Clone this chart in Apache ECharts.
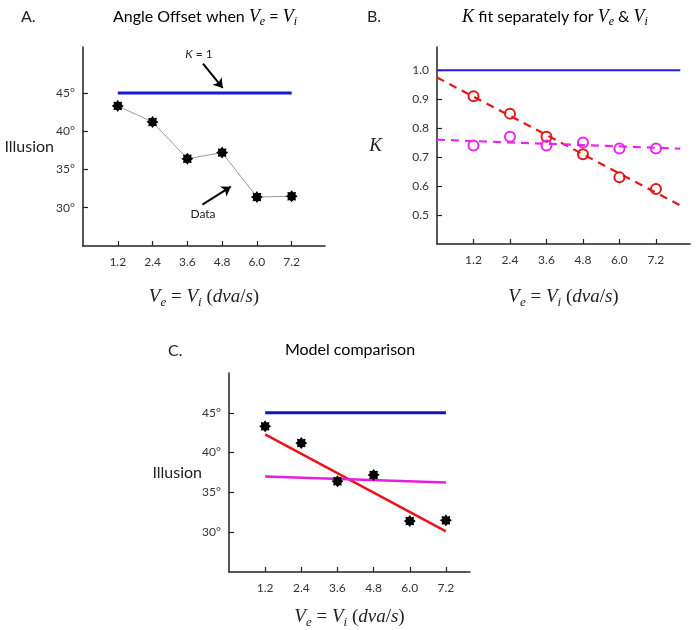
<!DOCTYPE html>
<html>
<head>
<meta charset="utf-8">
<script src="https://cdn.jsdelivr.net/npm/echarts@6.0.0/dist/echarts.min.js"></script>
<style>
  html, body { margin: 0; padding: 0; background: #fff; }
  #chart { width: 700px; height: 630px; }
</style>
</head>
<body>
<div id="chart"></div>
<script>
'use strict';

// speeds, Ve = Vi (dva/s)
var speeds = [1.2, 2.4, 3.6, 4.8, 6.0, 7.2];
// measured illusion (deg)
var illusion = [43.3, 41.2, 36.4, 37.2, 31.4, 31.5];
var illusionTicks = [30, 35, 40, 45];
// K = 1 prediction
var kOneAngle = 45;
// K fit separately (panel B)
var kRed = [0.91, 0.85, 0.77, 0.71, 0.63, 0.59];
var kMagenta = [0.74, 0.77, 0.74, 0.75, 0.73, 0.73];
var kTicks = [0.5, 0.6, 0.7, 0.8, 0.9, 1.0];
var kRedTrendX = [0, 8.0];
var kRedTrendY = [0.975, 0.533];
var kMagentaTrendY = [0.76, 0.729];
// model predictions (panel C), at 1.2 and 7.2
var modelEnds = [1.2, 7.2];
var modelRed = [42.3, 30.1];
var modelMagenta = [37.0, 36.25];

// 8 point star, fat centre
var STAR = 'path://M2 1 L1.647 1.268 L1.707 1.707 L1.268 1.647 L1 2 L0.732 1.647 L0.293 1.707 L0.353 1.268 L0 1 L0.353 0.732 L0.293 0.293 L0.732 0.353 L1 0 L1.268 0.353 L1.707 0.293 L1.647 0.732 Z';
var SANS = 'Lato, "Open Sans", sans-serif';
var SERIF = '"Liberation Serif", "DejaVu Serif", serif';
var AXIS = '#222';

function pairs(xs, ys) {
  var out = [];
  for (var i = 0; i < xs.length; i++) { out.push([xs[i], ys[i]]); }
  return out;
}

var mathRich = {
  n: { fontFamily: SERIF, fontSize: 19, color: '#222', lineHeight: 24 },
  m: { fontFamily: SERIF, fontSize: 19, fontStyle: 'italic', color: '#222', lineHeight: 24 },
  s: { fontFamily: SERIF, fontSize: 13, fontStyle: 'italic', color: '#222', lineHeight: 24, verticalAlign: 'bottom' }
};
var titleRich = {
  t: { fontFamily: SANS, fontSize: 16, color: '#222', lineHeight: 22 },
  m: { fontFamily: SERIF, fontSize: 18, fontStyle: 'italic', color: '#222', lineHeight: 22 },
  s: { fontFamily: SERIF, fontSize: 12, fontStyle: 'italic', color: '#222', lineHeight: 22, verticalAlign: 'bottom' }
};
var speedName = '{m|V}{s|e}{n| = }{m|V}{s|i}{n| (}{m|dva}{n|/}{m|s}{n|)}';

function xAxis(idx, max, gap) {
  return {
    gridIndex: idx, type: 'value', min: 0, max: max,
    axisLine: { onZero: false, lineStyle: { color: AXIS, width: 1.5 } },
    axisTick: { inside: true, length: 5, customValues: speeds, lineStyle: { color: AXIS, width: 1.2 } },
    axisLabel: {
      customValues: speeds, margin: 10, color: '#333', fontFamily: SANS, fontSize: 12,
      formatter: function(v){ return v.toFixed(1); }
    },
    splitLine: { show: false },
    name: speedName, nameLocation: 'middle', nameGap: gap,
    nameTextStyle: { rich: mathRich }
  };
}

function yAxis(idx, min, max, ticks, fmt, name, nameStyle, gap) {
  return {
    gridIndex: idx, type: 'value', min: min, max: max,
    axisLine: { onZero: false, lineStyle: { color: AXIS, width: 1.5 } },
    axisTick: { inside: true, length: 5, customValues: ticks, lineStyle: { color: AXIS, width: 1.2 } },
    axisLabel: { customValues: ticks, margin: 8, color: '#333', fontFamily: SANS, fontSize: 12, formatter: fmt },
    splitLine: { show: false },
    name: name, nameLocation: 'middle', nameRotate: 0, nameGap: gap,
    nameMoveOverlap: false,
    nameTextStyle: nameStyle
  };
}

function deg(v){ return v + '°'; }
function oneDec(v){ return v.toFixed(1); }

function lineSeries(xi, data, color, width, dash) {
  return {
    type: 'line', xAxisIndex: xi, yAxisIndex: xi, data: data,
    symbol: 'none', silent: true,
    lineStyle: { color: color, width: width, type: dash || 'solid' },
    z: 2
  };
}

function circleSeries(data, color) {
  return {
    type: 'scatter', xAxisIndex: 1, yAxisIndex: 1, data: data,
    symbol: 'circle', symbolSize: 10,
    itemStyle: { color: 'rgba(0,0,0,0)', borderColor: color, borderWidth: 2, opacity: 1 },
    z: 4
  };
}

var option = {
  backgroundColor: '#fff',
  animation: false,
  grid: [
    { left: 83, top: 47, width: 242, height: 199 },
    { left: 437, top: 47, width: 253, height: 197 },
    { left: 229, top: 373, width: 241, height: 199 }
  ],
  xAxis: [
    xAxis(0, 8.35, 39),
    xAxis(1, 8.32, 41),
    xAxis(2, 8.0, 33)
  ],
  yAxis: [
    yAxis(0, 25, 51, illusionTicks, deg, 'Illusion', { fontFamily: SANS, fontSize: 16, color: '#222' }, 29),
    yAxis(1, 0.4, 1.08, kTicks, oneDec, 'K', { fontFamily: SERIF, fontSize: 19, fontStyle: 'italic', color: '#222' }, 55),
    yAxis(2, 25, 50, illusionTicks, deg, 'Illusion', { fontFamily: SANS, fontSize: 16, color: '#222' }, 27)
  ],
  series: [
    // panel A
    lineSeries(0, pairs(modelEnds, [kOneAngle, kOneAngle]), '#1a1ad8', 3),
    {
      type: 'line', xAxisIndex: 0, yAxisIndex: 0, data: pairs(speeds, illusion),
      symbol: STAR, symbolSize: 12,
      itemStyle: { color: '#000', opacity: 1 },
      lineStyle: { color: '#9a9a9a', width: 1 },
      z: 3,
      markLine: {
        silent: true, symbol: ['none', 'arrow'], symbolSize: 9,
        label: { show: false },
        lineStyle: { color: '#000', width: 2, type: 'solid' },
        data: [
          [{ coord: [4.14, 48.83] }, { coord: [4.82, 45.65] }],
          [{ coord: [4.12, 30.4] }, { coord: [5.10, 32.75] }]
        ]
      },
      markPoint: {
        silent: true, symbol: 'circle', symbolSize: 0,
        label: {
          show: true, position: 'inside', color: '#222', fontFamily: SANS, fontSize: 12,
          formatter: function(p){ return p.name === 'k' ? '{i|K} = 1' : 'Data'; },
          rich: { i: { fontFamily: SANS, fontSize: 12, fontStyle: 'italic', color: '#222' } }
        },
        data: [
          { name: 'k', coord: [4.0, 50.1] },
          { name: 'd', coord: [4.14, 29.2] }
        ]
      }
    },
    // panel B
    lineSeries(1, pairs(kRedTrendX, [1.0, 1.0]), '#2020e0', 2),
    lineSeries(1, pairs(kRedTrendX, kRedTrendY), '#e01818', 2.2, [8, 6]),
    lineSeries(1, pairs(kRedTrendX, kMagentaTrendY), '#ee22ee', 2.2, [8, 6]),
    circleSeries(pairs(speeds, kRed), '#e01818'),
    circleSeries(pairs(speeds, kMagenta), '#ee22ee'),
    // panel C
    lineSeries(2, pairs(modelEnds, [kOneAngle, kOneAngle]), '#1414b4', 3),
    lineSeries(2, pairs(modelEnds, modelRed), '#e8161b', 2.5),
    lineSeries(2, pairs(modelEnds, modelMagenta), '#e61ce0', 2.5),
    {
      type: 'scatter', xAxisIndex: 2, yAxisIndex: 2, data: pairs(speeds, illusion),
      symbol: STAR, symbolSize: 12, itemStyle: { color: '#000', opacity: 1 }, z: 4
    }
  ],
  graphic: [
    { type: 'text', x: 21, y: 17, style: { text: 'A.', font: '16px ' + SANS, fill: '#222', textVerticalAlign: 'middle' } },
    { type: 'text', x: 367, y: 17, style: { text: 'B.', font: '16px ' + SANS, fill: '#222', textVerticalAlign: 'middle' } },
    { type: 'text', x: 168, y: 351, style: { text: 'C.', font: '16px ' + SANS, fill: '#222', textVerticalAlign: 'middle' } },
    { type: 'text', x: 205, y: 17, style: {
        text: '{t|Angle Offset when }{m|V}{s|e}{t| = }{m|V}{s|i}', rich: titleRich,
        textAlign: 'center', textVerticalAlign: 'middle' } },
    { type: 'text', x: 555, y: 17, style: {
        text: '{m|K}{t| fit separately for }{m|V}{s|e}{t| & }{m|V}{s|i}', rich: titleRich,
        textAlign: 'center', textVerticalAlign: 'middle' } },
    { type: 'text', x: 350, y: 350, style: {
        text: '{t|Model comparison}', rich: titleRich,
        textAlign: 'center', textVerticalAlign: 'middle' } }
  ]
};

var chart = echarts.init(document.getElementById('chart'));
chart.setOption(option);
</script>
</body>
</html>
